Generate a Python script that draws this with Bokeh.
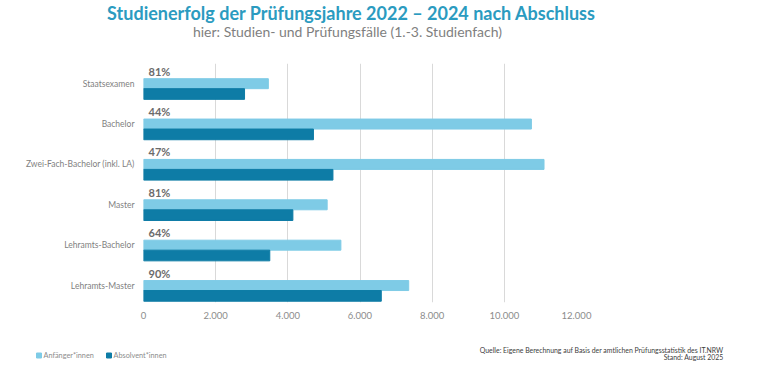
from bokeh.plotting import figure
from bokeh.models import ColumnDataSource, LabelSet, FixedTicker, Range1d
from bokeh.core.properties import value
from bokeh.embed import file_html
from bokeh.resources import INLINE

# ---------------- data ----------------
categories = ["Staatsexamen", "Bachelor", "Zwei-Fach-Bachelor (inkl. LA)",
              "Master", "Lehramts-Bachelor", "Lehramts-Master"]
anfaenger = [3460, 10750, 11100, 5090, 5470, 7350]      # Anfänger*innen
absolventen = [2800, 4710, 5250, 4140, 3500, 6590]      # Absolvent*innen
quote_labels = ["81%", "44%", "47%", "81%", "64%", "90%"]
x_ticks = [0, 2000, 4000, 6000, 8000, 10000, 12000]
x_tick_labels = ["0", "2.000", "4.000", "6.000", "8.000", "10.000", "12.000"]
series_names = ["Anfänger*innen", "Absolvent*innen"]

title_text = "Studienerfolg der Prüfungsjahre 2022 – 2024 nach Abschluss"
subtitle_text = "hier: Studien- und Prüfungsfälle (1.-3. Studienfach)"
source_lines = ["Quelle: Eigene Berechnung auf Basis der amtlichen Prüfungsstatistik des IT.NRW",
                "Stand: August 2025"]

LIGHT = "#7ecbe6"
DARK = "#0e7ca6"
FONT = "Lato"
W = 761


def blank(height):
    f = figure(width=W, height=height, output_backend="svg", toolbar_location=None,
               x_range=Range1d(0, W), y_range=Range1d(height, 0),
               x_axis_location=None, y_axis_location=None,
               min_border=0, min_border_left=0, min_border_right=0,
               min_border_top=0, min_border_bottom=0)
    f.outline_line_color = None
    f.grid.visible = False
    return f


# ---------------- header ----------------
HH = 50
header = blank(HH)
header.text(x=[351], y=[12], text=[title_text], text_align="center", text_baseline="middle",
            text_font=value(FONT), text_font_size="18px", text_font_style="bold",
            text_color="#2b9bc0")
header.text(x=[347], y=[31], text=[subtitle_text], text_align="center", text_baseline="middle",
            text_font=value(FONT), text_font_size="14px", text_color="#7f7f7f")

# ---------------- main chart ----------------
n = len(categories)
pos = [n - 1 - i for i in range(n)]
src = ColumnDataSource(dict(
    y_a=[v for v in pos],
    y_b=[v - 0.256 for v in pos],
    y_q=[v + 0.124 for v in pos],
    a=anfaenger, b=absolventen, q=quote_labels,
    zero=[0] * n,
))

MH = 285
p = figure(width=W, height=MH, output_backend="svg", toolbar_location=None,
           x_range=Range1d(0, 12000), y_range=Range1d(-0.42, 5.50),
           min_border_left=143, min_border_right=185,
           min_border_top=13, min_border_bottom=33)
p.outline_line_color = None

p.hbar(y="y_a", left=0, right="a", height=0.2475, color=LIGHT, source=src)
p.hbar(y="y_b", left=0, right="b", height=0.265, color=DARK, source=src)

p.xaxis.ticker = FixedTicker(ticks=x_ticks)
p.xaxis.major_label_overrides = {t: l for t, l in zip(x_ticks, x_tick_labels)}
p.xaxis.axis_line_color = None
p.xaxis.major_tick_line_color = None
p.xaxis.minor_tick_line_color = None
p.xaxis.major_tick_out = 0
p.xaxis.major_label_text_font = FONT
p.xaxis.major_label_text_font_size = "9.5px"
p.xaxis.major_label_text_color = "#8c8c8c"
p.xaxis.major_label_standoff = 9
p.xgrid.grid_line_color = "#d9d9d9"

p.yaxis.ticker = FixedTicker(ticks=pos)
p.yaxis.major_label_overrides = {t: c for t, c in zip(pos, categories)}
p.yaxis.axis_line_color = None
p.yaxis.major_tick_line_color = None
p.yaxis.minor_tick_line_color = None
p.yaxis.major_tick_out = 0
p.yaxis.major_label_text_font = FONT
p.yaxis.major_label_text_font_size = "8.5px"
p.yaxis.major_label_text_color = "#7f7f7f"
p.yaxis.major_label_standoff = 9
p.ygrid.grid_line_color = None

p.add_layout(LabelSet(x="zero", y="y_q", text="q", source=src, x_offset=5, y_offset=1,
                      text_baseline="bottom", text_align="left",
                      text_font=value(FONT), text_font_size="11px", text_font_style="bold",
                      text_color="#6b6b6b"))

# ---------------- footer ----------------
FH = 381 - HH - MH
footer = blank(FH)
ly = 355 - (HH + MH)
footer.scatter(x=[38.5, 108.5], y=[ly, ly], marker="square", size=5,
               color=[LIGHT, DARK])
footer.text(x=[43, 113], y=[ly, ly], text=series_names, text_align="left",
            text_baseline="middle", text_font=value(FONT), text_font_size="7.3px",
            text_color="#8c8c8c")
footer.text(x=[723, 723], y=[349 - (HH + MH), 356 - (HH + MH)], text=source_lines,
            text_align="right", text_baseline="middle", text_font=value(FONT),
            text_font_size="6.9px", text_color="#404040")

open("out.html", "w").write(file_html([header, p, footer], INLINE))
